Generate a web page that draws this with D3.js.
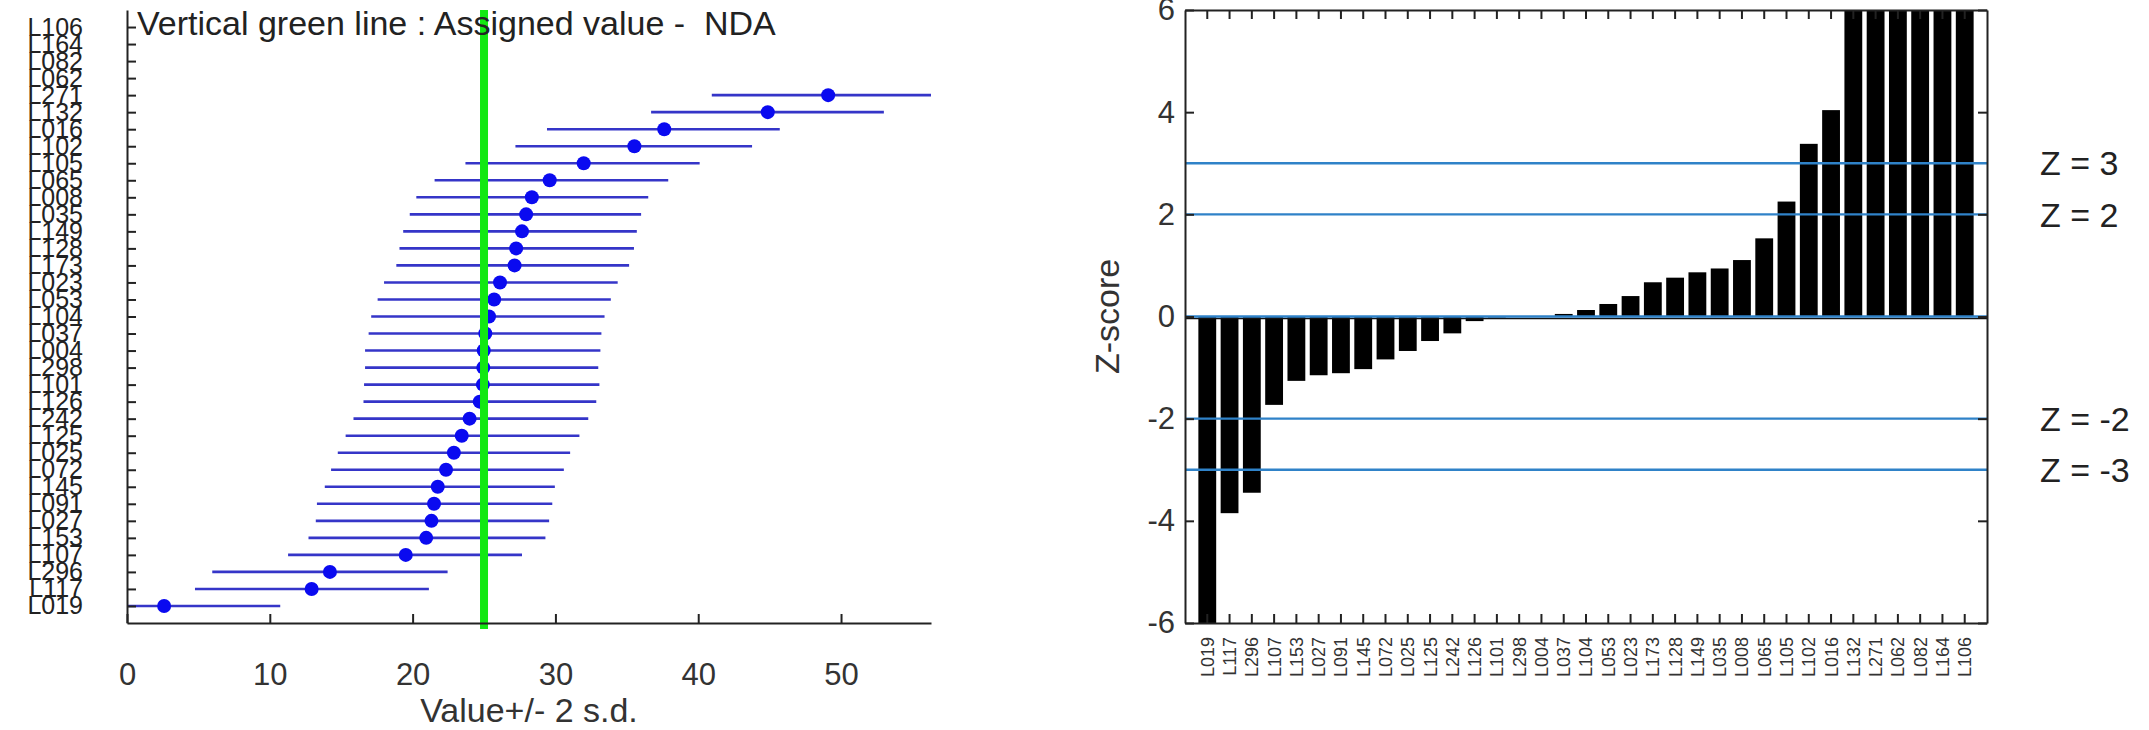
<!DOCTYPE html>
<html><head><meta charset="utf-8">
<script src="https://cdn.jsdelivr.net/npm/d3@7"></script>
<style>
html,body{margin:0;padding:0;background:#fff;}
svg{display:block;font-family:"Liberation Sans",Arial,sans-serif;}
text{white-space:pre;}
</style></head><body>
<svg id="c" width="2149" height="730"></svg>
<script>
// Participants in ascending order (bottom-to-top on left chart, left-to-right on right chart)
const labs = ["L019","L117","L296","L107","L153","L027","L091","L145","L072","L025","L125","L242","L126","L101","L298","L004","L037","L104","L053","L023","L173","L128","L149","L035","L008","L065","L105","L102","L016","L132","L271","L062","L082","L164","L106"];
const values = [2.60,12.93,14.21,19.52,20.95,21.32,21.50,21.76,22.34,22.89,23.44,23.99,24.70,24.92,24.95,24.98,25.09,25.35,25.71,26.12,27.14,27.25,27.66,27.95,28.35,29.60,31.98,35.53,37.62,44.87,49.10,70.0,80.0,95.0,110.0];
const lower = [-5.6,4.76,5.97,11.28,12.71,13.22,13.30,13.85,14.29,14.76,15.31,15.86,16.56,16.60,16.67,16.67,16.92,17.10,17.55,18.00,18.86,19.08,19.34,19.80,20.26,21.54,23.70,27.20,29.41,36.70,40.95,61.8,71.8,86.8,101.8];
const upper = [10.73,21.14,22.45,27.66,29.30,29.56,29.78,29.96,30.59,31.03,31.68,32.30,32.86,33.08,33.00,33.15,33.22,33.44,33.88,34.36,35.16,35.50,35.70,36.00,36.50,37.90,40.10,43.77,45.71,53.00,57.30,78.2,88.2,103.2,118.2];
const zScores = [-7.2,-3.85,-3.45,-1.73,-1.26,-1.15,-1.11,-1.03,-0.84,-0.675,-0.48,-0.33,-0.09,-0.02,0.00,0.01,0.05,0.127,0.245,0.40,0.67,0.76,0.865,0.94,1.105,1.53,2.25,3.38,4.04,6.4,7.8,14.5,17.7,22.6,27.4];
const assigned = 25;
const xTicks = [0,10,20,30,40,50];
const zTicks = [-6,-4,-2,0,2,4,6];
const zLimits = [3,2,-2,-3];
const zLimitLabels = ["Z = 3","Z = 2","Z = -2","Z = -3"];
const leftNote = "Vertical green line : Assigned value -  NDA";
const xLabel = "Value+/- 2 s.d.";
const zLabel = "Z-score";

const svg = d3.select("#c");
const TOP = 10, BOT = 623;

// ---------- Left chart ----------
const L = {x0:127, x1:931};
const x = d3.scaleLinear().domain([0,56.3]).range([L.x0, L.x1]);
const y = d3.scalePoint().domain(labs).range([BOT, TOP]).padding(1);

svg.append("defs").append("clipPath").attr("id","clipL")
  .append("rect").attr("x",L.x0).attr("y",TOP).attr("width",L.x1-L.x0).attr("height",BOT-TOP);

const gl = svg.append("g");
const marks = gl.append("g").attr("clip-path","url(#clipL)");
marks.selectAll("line.err").data(labs).join("line")
  .attr("x1",(d,i)=>x(lower[i])).attr("x2",(d,i)=>x(upper[i]))
  .attr("y1",d=>y(d)).attr("y2",d=>y(d))
  .attr("stroke","#3535c8").attr("stroke-width",2.6);
marks.selectAll("circle").data(labs).join("circle")
  .attr("cx",(d,i)=>x(values[i])).attr("cy",d=>y(d)).attr("r",7)
  .attr("fill","#0a0af0");

// green assigned value line
gl.append("line").attr("x1",x(assigned)).attr("x2",x(assigned))
  .attr("y1",TOP).attr("y2",BOT+6)
  .attr("stroke","#12e812").attr("stroke-width",8);

// axes
const axL = gl.append("g").attr("transform",`translate(${L.x0},0)`)
  .call(d3.axisLeft(y).tickSizeInner(-9).tickSizeOuter(0).tickPadding(44));
axL.selectAll("text").attr("font-size",25).attr("fill","#222");
const axB = gl.append("g").attr("transform",`translate(0,${BOT})`)
  .call(d3.axisBottom(x).tickValues(xTicks).tickFormat(d=>String(d)).tickSizeInner(-9).tickSizeOuter(0).tickPadding(40));
axB.selectAll("text").attr("font-size",31).attr("fill","#333");
[axL,axB].forEach(a=>{a.select(".domain").attr("stroke","#222").attr("stroke-width",2);
  a.selectAll(".tick line").attr("stroke","#222").attr("stroke-width",2);});

gl.append("text").attr("x",137).attr("y",35).attr("font-size",34).attr("fill","#222").text(leftNote);
gl.append("text").attr("x",(L.x0+L.x1)/2).attr("y",722).attr("text-anchor","middle")
  .attr("font-size",34).attr("fill","#333").text(xLabel);

// ---------- Right chart ----------
const R = {x0:1185, x1:1987};
const xb = d3.scaleBand().domain(labs).range([R.x0,R.x1]).paddingInner(0.2).paddingOuter(0.6);
const yz = d3.scaleLinear().domain([-6,6]).range([BOT,TOP]);

svg.select("defs").append("clipPath").attr("id","clipR")
  .append("rect").attr("x",R.x0).attr("y",TOP).attr("width",R.x1-R.x0).attr("height",BOT-TOP);

const gr = svg.append("g");
const bars = gr.append("g").attr("clip-path","url(#clipR)");
bars.selectAll("rect").data(labs).join("rect")
  .attr("x",d=>xb(d)).attr("width",xb.bandwidth())
  .attr("y",(d,i)=>yz(Math.max(0,zScores[i])))
  .attr("height",(d,i)=>Math.abs(yz(zScores[i])-yz(0)))
  .attr("fill","#000");
bars.append("line").attr("x1",R.x0).attr("x2",R.x1).attr("y1",yz(0)+2).attr("y2",yz(0)+2)
  .attr("stroke","#111").attr("stroke-width",1.5);
// reference lines
bars.selectAll("line.ref").data([0,...zLimits]).join("line").attr("class","ref")
  .attr("x1",R.x0).attr("x2",R.x1).attr("y1",d=>yz(d)).attr("y2",d=>yz(d))
  .attr("stroke","#2f82c8").attr("stroke-width",2.4);

const axRL = gr.append("g").attr("transform",`translate(${R.x0},0)`)
  .call(d3.axisLeft(yz).tickValues(zTicks).tickFormat(d=>String(d)).tickSizeInner(-9).tickSizeOuter(0).tickPadding(10));
axRL.selectAll("text").attr("font-size",31).attr("fill","#333");
const axRR = gr.append("g").attr("transform",`translate(${R.x1},0)`)
  .call(d3.axisRight(yz).tickValues(zTicks).tickFormat("").tickSizeInner(-9).tickSizeOuter(0));
const axRT = gr.append("g").attr("transform",`translate(0,${TOP})`)
  .call(d3.axisTop(xb).tickFormat("").tickSizeInner(-9).tickSizeOuter(0));
const axRB = gr.append("g").attr("transform",`translate(0,${BOT})`)
  .call(d3.axisBottom(xb).tickSizeInner(-9).tickSizeOuter(0));
axRB.selectAll("text").attr("font-size",18).attr("fill","#333")
  .attr("transform","rotate(-90)").attr("text-anchor","end")
  .attr("x",-14).attr("y",0).attr("dy","0.36em");
[axRL,axRR,axRT,axRB].forEach(a=>{a.select(".domain").attr("stroke","#222").attr("stroke-width",2);
  a.selectAll(".tick line").attr("stroke","#222").attr("stroke-width",2);});

gr.append("text").attr("transform",`translate(1107,${(TOP+BOT)/2}) rotate(-90)`)
  .attr("text-anchor","middle").attr("dy","0.35em").attr("font-size",34).attr("fill","#333").text(zLabel);
gr.selectAll("text.zl").data(zLimits).join("text").attr("class","zl")
  .attr("x",2040).attr("y",d=>yz(d)).attr("dy","0.36em")
  .attr("font-size",34).attr("fill","#222").text((d,i)=>zLimitLabels[i]);
</script>
</body></html>
